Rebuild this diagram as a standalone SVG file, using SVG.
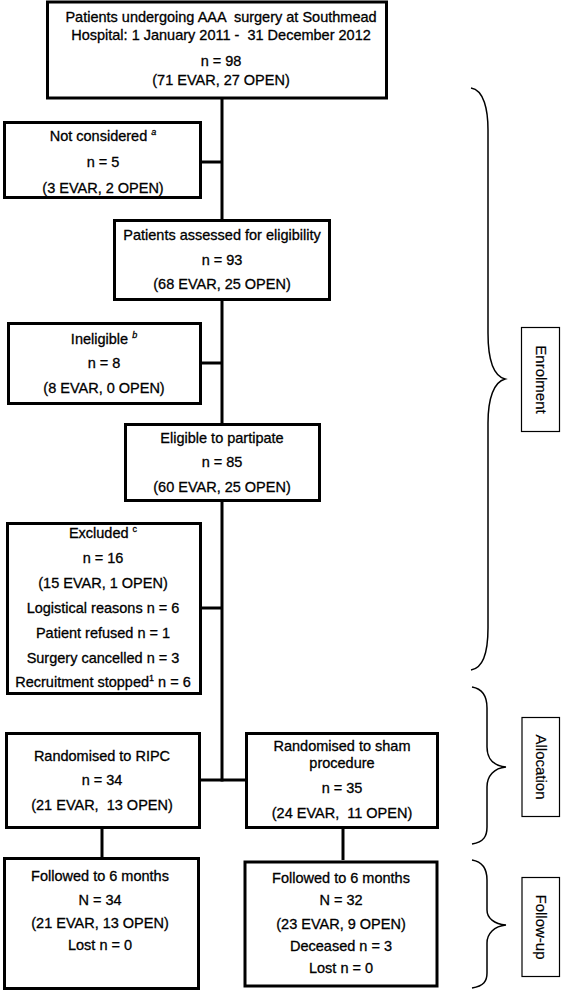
<svg xmlns="http://www.w3.org/2000/svg" width="561" height="992" viewBox="0 0 561 992">
<style>
.box{fill:#fff;stroke:#000;stroke-width:3}
.lbl{fill:#fff;stroke:#000;stroke-width:1.2}
.t{font-family:"Liberation Sans",Arial,sans-serif;font-size:14.5px;text-anchor:middle;fill:#000;stroke:#000;stroke-width:0.3;white-space:pre}
.v{font-family:"Liberation Sans",Arial,sans-serif;font-size:15px;text-anchor:middle;fill:#000;stroke:#000;stroke-width:0.2}
.c{stroke:#000;stroke-width:3;fill:none}
.br{stroke:#000;stroke-width:1.5;fill:none}
.sup{font-size:9px}
</style>
<rect width="561" height="992" fill="#fff"/>
<g id="connectors">
<line class="c" x1="222" y1="99" x2="222" y2="781.5"/>
<line class="c" x1="202" y1="162" x2="222" y2="162"/>
<line class="c" x1="202" y1="363" x2="222" y2="363"/>
<line class="c" x1="202" y1="608" x2="222" y2="608"/>
<line class="c" x1="201" y1="780" x2="245" y2="780"/>
<line class="c" x1="102" y1="829" x2="102" y2="857"/>
<line class="c" x1="343" y1="829" x2="343" y2="860"/>
</g>
<g id="n-top">
<rect class="box" x="47.5" y="2" width="339" height="96"/>
<text class="t" x="221" y="22" xml:space="preserve">Patients undergoing AAA  surgery at Southmead</text>
<text class="t" x="221" y="39.5" xml:space="preserve">Hospital: 1 January 2011 -  31 December 2012</text>
<text class="t" x="221" y="66">n = 98</text>
<text class="t" x="221" y="85">(71 EVAR, 27 OPEN)</text>
</g>
<g id="n-notconsidered">
<rect class="box" x="4.5" y="122.5" width="196" height="75"/>
<text class="t" x="103" y="141">Not considered <tspan class="sup" font-style="italic" dy="-6">a</tspan></text>
<text class="t" x="103" y="167">n = 5</text>
<text class="t" x="103" y="193">(3 EVAR, 2 OPEN)</text>
</g>
<g id="n-assessed">
<rect class="box" x="114.5" y="220.5" width="215" height="79"/>
<text class="t" x="222" y="240">Patients assessed for eligibility</text>
<text class="t" x="222" y="265">n = 93</text>
<text class="t" x="222" y="289">(68 EVAR, 25 OPEN)</text>
</g>
<g id="n-ineligible">
<rect class="box" x="8.5" y="323.5" width="192" height="80"/>
<text class="t" x="104" y="344">Ineligible <tspan class="sup" font-style="italic" dy="-6">b</tspan></text>
<text class="t" x="104" y="368">n = 8</text>
<text class="t" x="104" y="393">(8 EVAR, 0 OPEN)</text>
</g>
<g id="n-eligible">
<rect class="box" x="125.5" y="424.5" width="194" height="76"/>
<text class="t" x="222" y="443">Eligible to partipate</text>
<text class="t" x="222" y="467">n = 85</text>
<text class="t" x="222" y="492">(60 EVAR, 25 OPEN)</text>
</g>
<g id="n-excluded">
<rect class="box" x="7.5" y="523.5" width="193" height="170"/>
<text class="t" x="103" y="538">Excluded <tspan class="sup" dy="-6">c</tspan></text>
<text class="t" x="103" y="563">n = 16</text>
<text class="t" x="103" y="588">(15 EVAR, 1 OPEN)</text>
<text class="t" x="103" y="613">Logistical reasons n = 6</text>
<text class="t" x="103" y="638">Patient refused n = 1</text>
<text class="t" x="103" y="663">Surgery cancelled n = 3</text>
<text class="t" x="103" y="687">Recruitment stopped<tspan class="sup" dy="-6">1</tspan><tspan dy="6"> n = 6</tspan></text>
</g>
<g id="n-ripc">
<rect class="box" x="6.5" y="733.5" width="193" height="94"/>
<text class="t" x="102" y="761">Randomised to RIPC</text>
<text class="t" x="102" y="785">n = 34</text>
<text class="t" x="102" y="810" xml:space="preserve">(21 EVAR,  13 OPEN)</text>
</g>
<g id="n-sham">
<rect class="box" x="246.5" y="733.5" width="191" height="94"/>
<text class="t" x="342" y="751">Randomised to sham</text>
<text class="t" x="342" y="768">procedure</text>
<text class="t" x="342" y="793">n = 35</text>
<text class="t" x="342" y="818" xml:space="preserve">(24 EVAR,  11 OPEN)</text>
</g>
<g id="n-follow-ripc">
<rect class="box" x="4.5" y="858.5" width="194" height="130"/>
<text class="t" x="100" y="881">Followed to 6 months</text>
<text class="t" x="100" y="905">N = 34</text>
<text class="t" x="100" y="928">(21 EVAR, 13 OPEN)</text>
<text class="t" x="100" y="950">Lost n = 0</text>
</g>
<g id="n-follow-sham">
<rect class="box" x="245" y="862" width="192" height="124" stroke-width="4"/>
<text class="t" x="341" y="883">Followed to 6 months</text>
<text class="t" x="341" y="905">N = 32</text>
<text class="t" x="341" y="929">(23 EVAR, 9 OPEN)</text>
<text class="t" x="341" y="951">Deceased n = 3</text>
<text class="t" x="341" y="973">Lost n = 0</text>
</g>
<g id="enrolment">
<path class="br" d="M471,88 C484,90 488,110 488,130 L488,333 C488,360 494,376 505,379 C494,382 488,398 488,423 L488,628 C488,650 484,668 471,670"/>
<rect class="lbl" x="521.5" y="327.5" width="38" height="104"/>
<text class="v" transform="translate(535.5,379.5) rotate(90)">Enrolment</text>
</g>
<g id="allocation">
<path class="br" d="M472,687 C484,689 487,698 487,708 L487,747 C487,759 494,766 506,767 C494,768 487,776 487,787 L487,827 C487,836 484,842 472,844"/>
<rect class="lbl" x="522" y="717.5" width="37.5" height="99"/>
<text class="v" transform="translate(536,767) rotate(90)">Allocation</text>
</g>
<g id="followup">
<path class="br" d="M472,860 C484,862 487,870 487,880 L487,910 C487,918 494,924 506,925 C494,926 487,934 487,943 L487,973 C487,981 484,986 472,988"/>
<rect class="lbl" x="522" y="877.5" width="37.5" height="99"/>
<text class="v" transform="translate(536,927) rotate(90)">Follow-up</text>
</g>
</svg>
